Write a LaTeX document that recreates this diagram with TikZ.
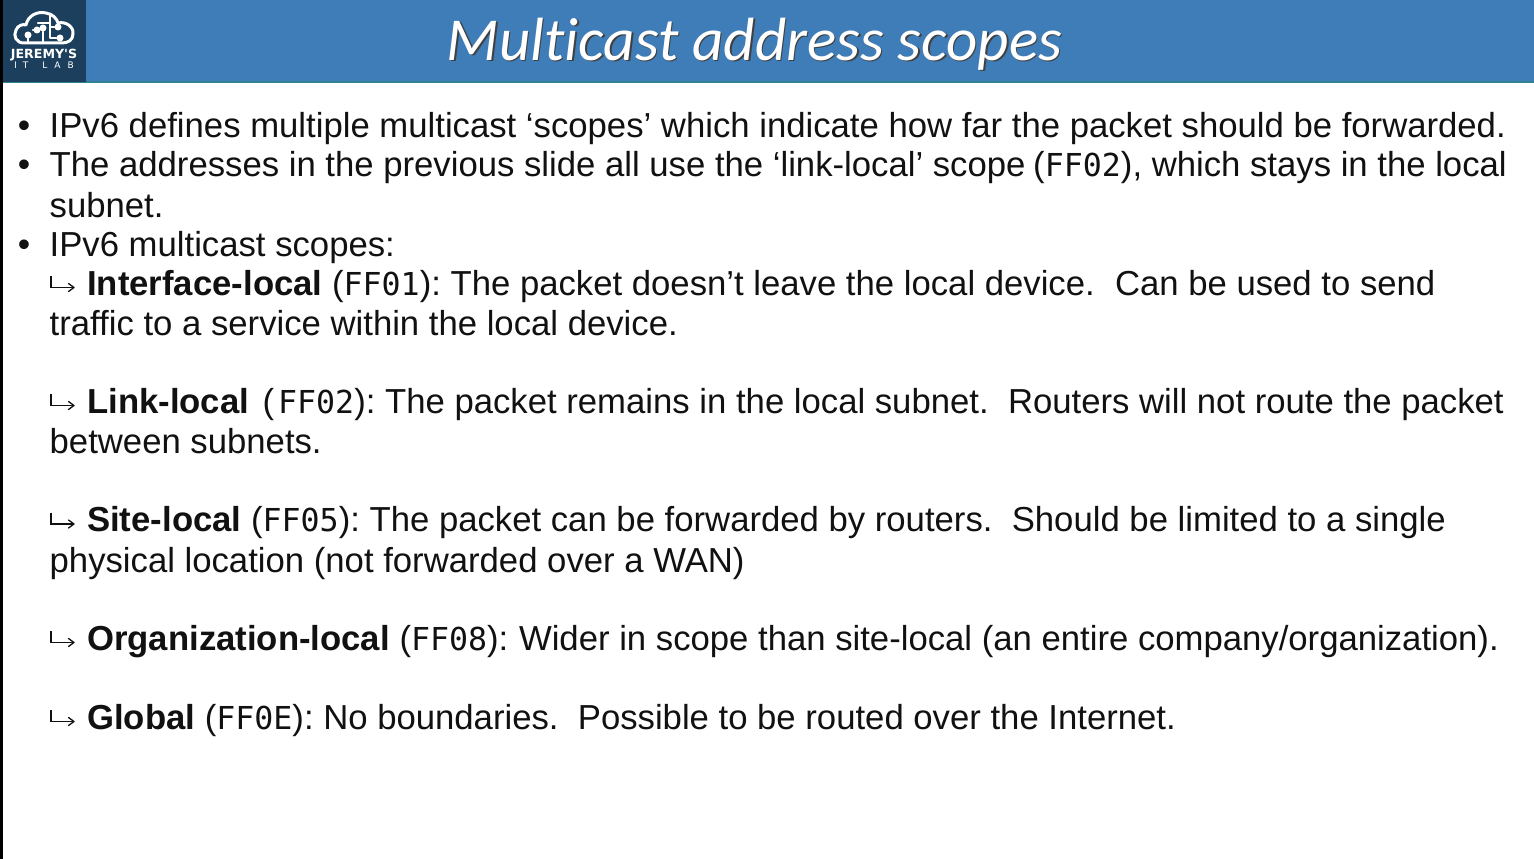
\documentclass[tikz,border=0pt]{standalone}
\usepackage{xcolor}
\usepackage{fontspec}
\setmainfont{Liberation Sans}
\setmonofont{DejaVu Sans Mono}
\newfontfamily\titlefont[Ligatures=NoCommon]{Carlito}
\newfontfamily\logofont{DejaVu Sans}
\definecolor{headblue}{HTML}{3F7DB8}
\definecolor{headnavy}{HTML}{1B3F5C}
\definecolor{headedge}{HTML}{2E8291}
\definecolor{bodyink}{HTML}{111111}
\newcommand{\addr}[1]{{\fontsize{31.6}{31}\selectfont\ttfamily #1}}
\tikzset{
  bodyline/.style={anchor=base west,inner sep=0pt,text=bodyink,font=\fontsize{34.7}{40}\selectfont},
  bulletmark/.style={anchor=base,inner sep=0pt,text=bodyink,font=\fontsize{35.4}{40}\selectfont},
  hookmark/.style={draw=bodyink,line width=1.3pt},
  titletext/.style={anchor=base,inner sep=0pt,text=white,font=\fontsize{61}{62}\selectfont\titlefont\itshape},
  logoline/.style={draw=white,line width=3pt,line cap=round,line join=round},
  logotrace/.style={draw=white,line width=2.2pt,line cap=round,line join=round},
  logodot/.style={circle,fill=white,inner sep=0pt,minimum size=7pt}
}
\begin{document}
\frenchspacing
\begin{tikzpicture}[x=1pt,y=-1pt]
	\useasboundingbox (0,0) rectangle (1534,859);
	\fill[white] (0,0) rectangle (1534,859);
	% header
	\fill[headblue] (0,0) rectangle (1534,82);
	\fill[headedge] (0,81) rectangle (1534,83);
	\fill[headnavy] (3,0) rectangle (86,82);
	\fill[black] (0,0) rectangle (3,859);
	% title
	\node[titletext,text=black!75] (titleshadow) at (756,62) {Multicast address scopes};
	\node[titletext] (title) at (754.5,60.5) {Multicast address scopes};
	% logo
	\draw[logoline] (24,43) .. controls (16,43) and (13,36) .. (16,30)
	  .. controls (18,25) and (23,24) .. (26,25)
	  .. controls (28,15) and (38,11) .. (46,13)
	  .. controls (53,14) and (57,19) .. (58,23)
	  .. controls (66,21) and (74,27) .. (73,34)
	  .. controls (73,40) and (68,43) .. (62,43) -- (24,43);
	\node[logodot] (dota) at (28,35) {};
	\node[logodot] (dotb) at (37,30) {};
	\node[logodot] (dotc) at (43,28) {};
	\node[logodot] (dotd) at (60,38) {};
	\node[logodot] (dote) at (58,27) {};
	\draw[logotrace] (dota) -- (28,43);
	\draw[logotrace] (dotb) -- (33,30);
	\draw[logotrace] (dotc) -- (43,43);
	\draw[logotrace] (38,23) -- (50,23);
	\draw[logotrace] (50,14) -- (50,38) -- (dotd);
	\draw[logotrace] (dote) -- (50,27);
	\node[anchor=base,inner sep=0pt,text=white,font=\fontsize{12.6}{13}\selectfont\bfseries\logofont] (logoname) at (44,59) {JEREMY'S};
	\node[anchor=base,inner sep=0pt,text=white,font=\fontsize{9}{9}\selectfont\logofont] (logolab) at (44,68) {I\kern6pt T\kern14pt L\kern7pt A\kern7pt B};
	% bullets
	\foreach \name/\ypos in {bulla/137,bullb/176.5,bullc/256}
	  \node[bulletmark] (\name) at (24,\ypos) {•};
	% body text
	\node[bodyline] (linea) at (49.5,137) {IPv6 defines multiple multicast ‘scopes’ which indicate how far the packet should be forwarded.};
	\node[bodyline] (lineb) at (49.5,176.5) {The addresses in the previous slide all use the ‘link-local’ scope \kern-2pt(\addr{FF02}), which stays in the local};
	\node[bodyline] (linec) at (49.5,217) {subnet.};
	\node[bodyline] (lined) at (49.5,256) {IPv6 multicast scopes:};
	% scopes
	\foreach \name/\ypos in {hooka/295,hookb/413,hookc/531.5,hookd/650,hooke/729}{
	  \coordinate (\name) at (51,\ypos-19);
	  \draw[hookmark] (\name) -- ++(0,11.5) -- ++(23,0);
	  \draw[hookmark,line cap=round] (74,\ypos-7.5) -- ++(-5.5,-4) (74,\ypos-7.5) -- ++(-5.5,4);
	}
	\node[bodyline] (ifa) at (87,295) {\textbf{Interface-local} (\addr{FF01}): The packet doesn’t leave the local device.\ \ \kern1pt Can be used to send};
	\node[bodyline] (ifb) at (49.5,335) {traffic to a service within the local device.};
	\node[bodyline] (lla) at (87,413) {\textbf{Link-local} \kern3.8pt(\kern4pt\addr{FF02}): The packet remains in the local subnet.\ \ Routers will not route the packet};
	\node[bodyline] (llb) at (49.5,453) {between subnets.};
	\node[bodyline] (sla) at (87,531.5) {\textbf{Site-local} (\addr{FF05}): The packet can be forwarded by routers.\ \ Should be limited to a single};
	\node[bodyline] (slb) at (49.5,572) {physical location (not forwarded over a WAN)};
	\node[bodyline] (org) at (87,650) {\textbf{Organization-local} (\addr{FF08}):\kern1pt{} Wider in scope than site-local (an entire company/organization).};
	\node[bodyline] (glob) at (87,729) {\textbf{Global} (\addr{FF0E}): No boundaries.\ \ Possible to be routed over the Internet.};
\end{tikzpicture}
\end{document}
